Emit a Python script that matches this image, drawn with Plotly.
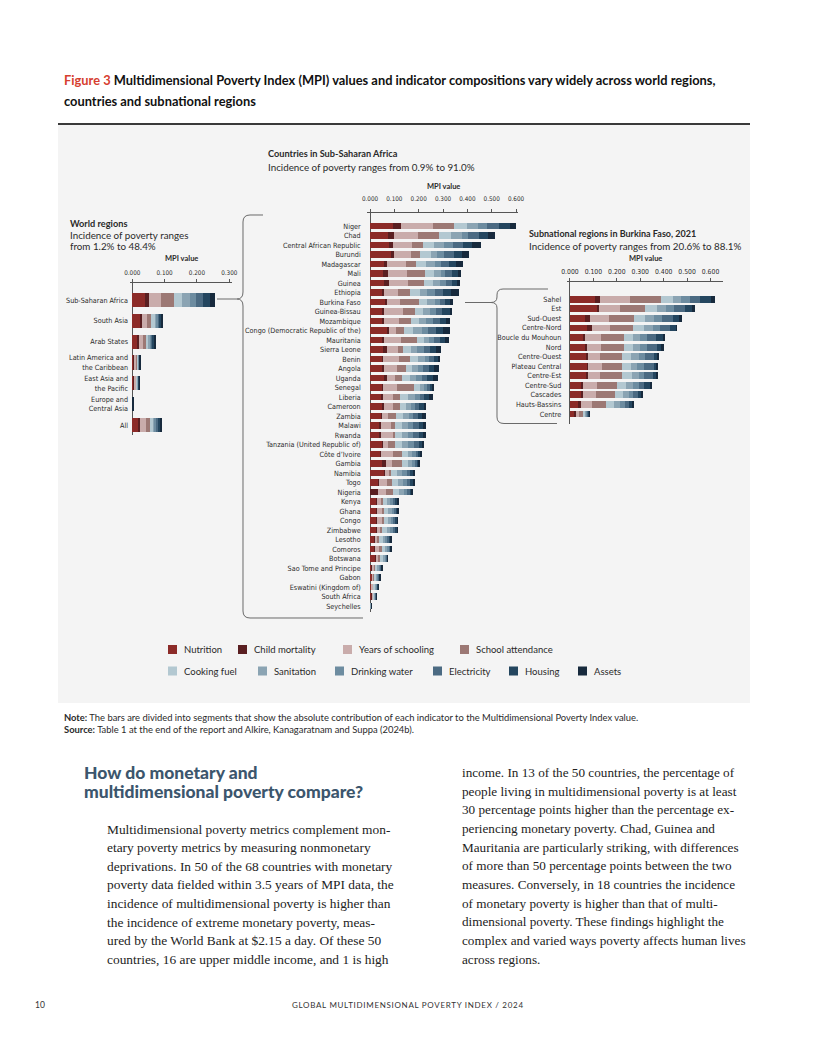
import plotly.graph_objects as go

W, H = 816, 1056

indicators = ["Nutrition", "Child mortality", "Years of schooling", "School attendance",
              "Cooking fuel", "Sanitation", "Drinking water", "Electricity", "Housing", "Assets"]
colors = ["#8c2b28", "#5a1f21", "#c9acab", "#9c7874", "#b3c8d1",
          "#8ba4b3", "#6d8ca0", "#4b6a82", "#24465f", "#172a3d"]

# ---------------- World regions ----------------
region_labels = ["Sub-Saharan Africa", "South Asia", "Arab States",
                 "Latin America and<br>the Caribbean", "East Asia and<br>the Pacific",
                 "Europe and<br>Central Asia", "All"]
region_nutrition = [0.039, 0.026, 0.017, 0.005, 0.005, 0.0005, 0.020]
region_child_mortality = [0.012, 0.003, 0.003, 0.002, 0.001, 0.0002, 0.005]
region_years_schooling = [0.039, 0.018, 0.012, 0.006, 0.006, 0.0004, 0.017]
region_school_attendance = [0.039, 0.012, 0.011, 0.002, 0.002, 0.0002, 0.012]
region_cooking_fuel = [0.026, 0.010, 0.006, 0.003, 0.003, 0.0003, 0.009]
region_sanitation = [0.023, 0.007, 0.006, 0.002, 0.002, 0.0002, 0.007]
region_drinking_water = [0.018, 0.004, 0.005, 0.001, 0.001, 0.0001, 0.005]
region_electricity = [0.022, 0.004, 0.004, 0.001, 0.0005, 0.0001, 0.005]
region_housing = [0.023, 0.007, 0.005, 0.001, 0.0005, 0.0001, 0.006]
region_assets = [0.015, 0.003, 0.003, 0.001, 0.0005, 0.0001, 0.003]

# ---------------- Countries in Sub-Saharan Africa ----------------
country_labels = ["Niger", "Chad", "Central African Republic", "Burundi", "Madagascar", "Mali",
                  "Guinea", "Ethiopia", "Burkina Faso", "Guinea-Bissau", "Mozambique",
                  "Congo (Democratic Republic of the)", "Mauritania", "Sierra Leone", "Benin",
                  "Angola", "Uganda", "Senegal", "Liberia", "Cameroon", "Zambia", "Malawi",
                  "Rwanda", "Tanzania (United Republic of)", "Côte d’Ivoire", "Gambia", "Namibia",
                  "Togo", "Nigeria", "Kenya", "Ghana", "Congo", "Zimbabwe", "Lesotho", "Comoros",
                  "Botswana", "Sao Tome and Principe", "Gabon", "Eswatini (Kingdom of)",
                  "South Africa", "Seychelles"]
country_nutrition = [.096, .075, .078, .085, .059, .052, .058, .052, .062, .052, .052, .068, .052, .055,
                     .048, .052, .059, .048, .044, .048, .044, .038, .038, .052, .041, .051, .058, .032,
                     .000, .027, .027, .025, .025, .016, .018, .021, .006, .007, .005, .006, .001]
country_child_mortality = [.032, .023, .015, .014, .012, .021, .021, .005, .007, .007, .005, .010, .005,
                           .014, .007, .007, .010, .004, .008, .010, .004, .005, .007, .003, .004, .015,
                           .004, .005, .034, .003, .003, .003, .003, .004, .003, .003, .001, .001, .001,
                           .001, .0002]
country_years_schooling = [.129, .100, .081, .070, .077, .078, .079, .059, .055, .078, .062, .027, .070,
                           .044, .066, .053, .034, .058, .041, .036, .025, .045, .048, .018, .051, .023,
                           .014, .032, .030, .014, .018, .021, .014, .010, .016, .011, .010, .006, .006,
                           .005, .001]
country_school_attendance = [.090, .086, .045, .037, .041, .075, .064, .048, .078, .048, .049, .036, .068,
                             .022, .044, .034, .027, .071, .030, .030, .034, .014, .010, .030, .037, .041,
                             .011, .021, .032, .008, .011, .007, .007, .007, .011, .007, .005, .004, .002,
                             .001, .0003]
country_cooking_fuel = [.051, .047, .045, .044, .040, .038, .036, .041, .034, .034, .034, .037, .026, .033,
                        .032, .027, .034, .025, .034, .023, .030, .030, .027, .030, .022, .025, .023, .025,
                        .021, .016, .016, .018, .021, .015, .014, .011, .008, .006, .006, .003, .0001]
country_sanitation = [.047, .045, .041, .027, .038, .027, .030, .030, .029, .027, .030, .034, .022, .027,
                      .027, .025, .025, .016, .027, .021, .023, .025, .027, .025, .019, .019, .023, .021,
                      .021, .014, .014, .012, .014, .010, .008, .008, .006, .005, .005, .004, .0002]
country_drinking_water = [.036, .027, .037, .025, .026, .019, .023, .032, .023, .027, .027, .027, .021,
                          .025, .019, .021, .023, .014, .021, .018, .018, .021, .021, .021, .014, .011,
                          .018, .016, .014, .011, .010, .011, .011, .010, .007, .005, .004, .004, .004,
                          .003, .0001]
country_electricity = [.048, .044, .038, .041, .032, .025, .026, .032, .021, .023, .027, .032, .023, .027,
                       .021, .022, .023, .011, .018, .016, .018, .023, .023, .021, .011, .007, .014, .014,
                       .011, .010, .007, .008, .010, .007, .004, .004, .004, .003, .002, .002, .0001]
country_housing = [.045, .038, .041, .036, .029, .025, .019, .033, .018, .032, .027, .030, .023, .025,
                   .015, .022, .025, .010, .019, .018, .019, .015, .015, .014, .007, .005, .011, .010,
                   .008, .007, .005, .005, .005, .004, .003, .001, .003, .002, .002, .001, .0001]
country_assets = [.025, .027, .036, .027, .030, .013, .014, .033, .014, .010, .016, .027, .014, .021,
                  .010, .019, .019, .005, .015, .012, .016, .012, .012, .008, .004, .003, .010, .005,
                  .005, .004, .003, .003, .001, .003, .001, .001, .001, .002, .001, .001, .0001]

# ---------------- Subnational regions in Burkina Faso ----------------
bf_labels = ["Sahel", "Est", "Sud-Ouest", "Centre-Nord", "Boucle du Mouhoun", "Nord", "Centre-Ouest",
             "Plateau Central", "Centre-Est", "Centre-Sud", "Cascades", "Hauts-Bassins", "Centre"]
bf_nutrition = [.107, .114, .064, .074, .060, .064, .071, .074, .071, .046, .046, .036, .021]
bf_child_mortality = [.021, .010, .021, .021, .004, .010, .007, .001, .007, .011, .011, .010, .004]
bf_years_schooling = [.129, .090, .081, .076, .069, .059, .050, .060, .050, .060, .054, .047, .014]
bf_school_attendance = [.133, .107, .107, .100, .096, .096, .093, .086, .093, .083, .081, .061, .017]
bf_cooking_fuel = [.050, .050, .047, .046, .039, .039, .039, .040, .043, .040, .036, .034, .010]
bf_sanitation = [.034, .040, .040, .036, .033, .033, .033, .024, .031, .029, .026, .026, .007]
bf_drinking_water = [.037, .031, .031, .030, .026, .029, .029, .029, .021, .024, .017, .019, .004]
bf_electricity = [.046, .050, .047, .043, .039, .040, .036, .043, .040, .024, .021, .021, .004]
bf_housing = [.046, .031, .029, .029, .033, .024, .019, .014, .014, .030, .014, .014, .004]
bf_assets = [.017, .010, .010, .003, .006, .007, .004, .003, .003, .003, .004, .006, .001]

tick_values = [0.0, 0.1, 0.2, 0.3, 0.4, 0.5, 0.6]

region_data = [region_nutrition, region_child_mortality, region_years_schooling,
               region_school_attendance, region_cooking_fuel, region_sanitation,
               region_drinking_water, region_electricity, region_housing, region_assets]
country_data = [country_nutrition, country_child_mortality, country_years_schooling,
                country_school_attendance, country_cooking_fuel, country_sanitation,
                country_drinking_water, country_electricity, country_housing, country_assets]
bf_data = [bf_nutrition, bf_child_mortality, bf_years_schooling, bf_school_attendance,
           bf_cooking_fuel, bf_sanitation, bf_drinking_water, bf_electricity, bf_housing, bf_assets]

SANS = "Lato, 'Open Sans', sans-serif"
COND = "'DejaVu Sans Condensed', 'Roboto Condensed', sans-serif"
SERIF = "'Liberation Serif', 'DejaVu Serif', serif"
AXIS_COL = "#555555"
TEXT_COL = "#2a2a2a"
OFF = 8  # page offset of the rendered figure


def fx(p):
    return (p - OFF) / W


def fy(p):
    return 1 - (p - OFF) / H


fig = go.Figure()

panels = [
    (region_labels, region_data, "x", "y", 0.68),
    (country_labels, country_data, "x2", "y2", 0.7),
    (bf_labels, bf_data, "x3", "y3", 0.72),
]
for labels, data, xa, ya, bw in panels:
    for i, name in enumerate(indicators):
        fig.add_trace(go.Bar(
            y=labels, x=data[i], orientation="h", name=name,
            marker=dict(color=colors[i], line=dict(width=0)),
            width=bw, xaxis=xa, yaxis=ya, showlegend=False,
            hovertemplate="%{y}<br>" + name + ": %{x:.3f}<extra></extra>",
        ))


def xaxis_cfg(dom, rng, tvals, standoff, anchor, size):
    return dict(
        domain=[fx(dom[0]), fx(dom[1])], range=rng, side="top", anchor=anchor,
        tickmode="array", tickvals=tvals, tickformat=".3f",
        ticks="outside", ticklen=3, tickwidth=1, tickcolor=AXIS_COL,
        showline=True, linecolor=AXIS_COL, linewidth=1, automargin=False,
        showgrid=False, zeroline=True, zerolinecolor=AXIS_COL, zerolinewidth=1,
        tickfont=dict(family=COND, size=size, color=TEXT_COL),
        ticklabelstandoff=standoff, fixedrange=True,
    )


def yaxis_cfg(dom, rng, labels, size, standoff, anchor):
    return dict(
        domain=[fy(dom[1]), fy(dom[0])], range=rng, type="category",
        categoryorder="array", categoryarray=labels,
        tickmode="array", tickvals=labels, ticktext=labels, automargin=False,
        showline=False, ticks="", showgrid=False, zeroline=False,
        tickfont=dict(family=COND, size=size, color=TEXT_COL),
        ticklabelstandoff=standoff, anchor=anchor, fixedrange=True,
    )


fig.update_layout(
    template="none",
    xaxis=xaxis_cfg((130, 231.7), [-0.0071, 0.3075], tick_values[:4], 1, "y", 6.3),
    yaxis=yaxis_cfg((283, 435), [6.48, -0.816], region_labels, 7.2, 1, "x"),
    xaxis2=xaxis_cfg((366.7, 518), [-0.0137, 0.608], tick_values, 5, "y2", 6.3),
    yaxis2=yaxis_cfg((213, 612), [40.63, -1.37], country_labels, 7.2, 5, "x2"),
    xaxis3=xaxis_cfg((567.3, 722.7), [-0.0114, 0.652], tick_values, 1, "y3", 6.8),
    yaxis3=yaxis_cfg((281.7, 424), [13.05, -1.84], bf_labels, 7.2, 5, "x3"),
)

shapes = []
# grey panel background and top rule
shapes.append(dict(type="rect", xref="paper", yref="paper", x0=fx(58), x1=fx(750), y0=fy(703), y1=fy(125),
                   fillcolor="#f4f4f4", line=dict(width=0), layer="below"))
shapes.append(dict(type="line", xref="paper", yref="paper", x0=fx(58), x1=fx(750), y0=fy(124), y1=fy(124),
                   line=dict(color="#3a3a3a", width=2)))


def path(points_cmds):
    out = []
    for cmd in points_cmds:
        c = cmd[0]
        nums = cmd[1:]
        coords = []
        for j in range(0, len(nums), 2):
            coords.append("%.5f,%.5f" % (fx(nums[j]), fy(nums[j + 1])))
        out.append(c + " " + " ".join(coords))
    return " ".join(out)


brace_line = dict(color="#6a6a6a", width=1)
# bracket from Sub-Saharan Africa to country panel
shapes.append(dict(type="path", xref="paper", yref="paper", line=brace_line, path=path([
    ("M", 263, 215), ("L", 250, 215), ("Q", 243, 215, 243, 222), ("L", 243, 292),
    ("Q", 243, 299, 237, 299), ("Q", 243, 299, 243, 306), ("L", 243, 611),
    ("Q", 243, 618, 250, 618), ("L", 363, 618)])))
shapes.append(dict(type="line", xref="paper", yref="paper", x0=fx(217), x1=fx(237), y0=fy(299), y1=fy(299),
                   line=brace_line))
# bracket from Burkina Faso to subnational panel
shapes.append(dict(type="path", xref="paper", yref="paper", line=brace_line, path=path([
    ("M", 548, 289), ("L", 503, 289), ("Q", 497, 289, 497, 295), ("L", 497, 297),
    ("Q", 497, 302.5, 491, 302.5), ("Q", 497, 302.5, 497, 308), ("L", 497, 417),
    ("Q", 497, 423.5, 504, 423.5), ("L", 557, 423.5)])))
shapes.append(dict(type="line", xref="paper", yref="paper", x0=fx(465), x1=fx(491), y0=fy(302.5),
                   y1=fy(302.5), line=brace_line))

# legend swatches
legend_pos = [(168, 649.5), (238, 649.5), (343, 649.5), (460, 649.5),
              (168, 671), (258, 671), (335, 671), (433, 671), (509, 671), (578, 671)]
annotations = []
for (lx, ly), name, col in zip(legend_pos, indicators, colors):
    shapes.append(dict(type="rect", xref="paper", yref="paper", x0=fx(lx), x1=fx(lx + 9),
                       y0=fy(ly + 4.5), y1=fy(ly - 4.5), fillcolor=col, line=dict(width=0)))
    annotations.append(dict(x=fx(lx + 14), y=fy(ly), text=name, xanchor="left", yanchor="middle",
                            font=dict(family=SANS, size=9.5, color=TEXT_COL)))


def note(x, y, text, size, color=TEXT_COL, family=SANS, anchor="left", weight=None):
    f = dict(family=family, size=size, color=color)
    if weight:
        f["weight"] = weight
    annotations.append(dict(x=fx(x), y=fy(y), text=text, xanchor=anchor, yanchor="middle", font=f))


# figure title
note(62, 80, "<span style='color:#d6402f'>Figure 3</span> Multidimensional Poverty Index (MPI) values "
             "and indicator compositions vary widely across world regions,", 12.85, "#111111", weight=700)
note(62, 101, "countries and subnational regions", 12.85, "#111111", weight=700)

# panel titles
note(68, 223, "<b>World regions</b>", 9.2)
note(68, 235, "Incidence of poverty ranges", 9.8)
note(68, 246, "from 1.2% to 48.4%", 9.8)
note(181, 259, "<b>MPI value</b>", 7.5, anchor="center")

note(266, 154, "<b>Countries in Sub-Saharan Africa</b>", 9.2)
note(266, 167, "Incidence of poverty ranges from 0.9% to 91.0%", 9.8)
note(443, 187, "<b>MPI value</b>", 7.5, anchor="center")

note(527, 234, "<b>Subnational regions in Burkina Faso, 2021</b>", 9.0)
note(527, 246, "Incidence of poverty ranges from 20.6% to 88.1%", 9.8)
note(645, 259, "<b>MPI value</b>", 7.5, anchor="center")

# notes below chart
note(62, 717, "<b>Note:</b> The bars are divided into segments that show the absolute contribution of each "
              "indicator to the Multidimensional Poverty Index value.", 9.4)
note(62, 729, "<b>Source:</b> Table 1 at the end of the report and Alkire, Kanagaratnam and Suppa (2024b).", 9.4)

# body text
HEAD_COL = "#3c566d"
note(82, 772, "How do monetary and", 17.5, HEAD_COL, weight=900)
note(82, 791, "multidimensional poverty compare?", 17.5, HEAD_COL, weight=900)

left_lines = [
    "Multidimensional poverty metrics complement mon-",
    "etary poverty metrics by measuring nonmonetary",
    "deprivations. In 50 of the 68 countries with monetary",
    "poverty data fielded within 3.5 years of MPI data, the",
    "incidence of multidimensional poverty is higher than",
    "the incidence of extreme monetary poverty, meas-",
    "ured by the World Bank at $2.15 a day. Of these 50",
    "countries, 16 are upper middle income, and 1 is high",
]
right_lines = [
    "income. In 13 of the 50 countries, the percentage of",
    "people living in multidimensional poverty is at least",
    "30 percentage points higher than the percentage ex-",
    "periencing monetary poverty. Chad, Guinea and",
    "Mauritania are particularly striking, with differences",
    "of more than 50 percentage points between the two",
    "measures. Conversely, in 18 countries the incidence",
    "of monetary poverty is higher than that of multi-",
    "dimensional poverty. These findings highlight the",
    "complex and varied ways poverty affects human lives",
    "across regions.",
]
for k, line in enumerate(left_lines):
    note(105, 829 + 18.6 * k, line, 13.4, "#222222", SERIF)
for k, line in enumerate(right_lines):
    note(460, 772.3 + 18.7 * k, line, 13.2, "#222222", SERIF)

# footer
note(33, 1005, "10", 8.5, "#333333")
note(408, 1005, "<span style='letter-spacing:0.7px'>GLOBAL MULTIDIMENSIONAL POVERTY INDEX / 2024</span>", 8,
     "#333333", anchor="center")

for a in annotations:
    a.update(xref="paper", yref="paper", showarrow=False)

fig.update_layout(
    width=W, height=H, autosize=False,
    margin=dict(l=0, r=0, t=0, b=0, pad=0),
    paper_bgcolor="white", plot_bgcolor="rgba(0,0,0,0)",
    barmode="stack", bargap=0.3, showlegend=False,
    shapes=shapes, annotations=annotations,
    font=dict(family=SANS, color=TEXT_COL),
)

fig.write_html("out.html")
